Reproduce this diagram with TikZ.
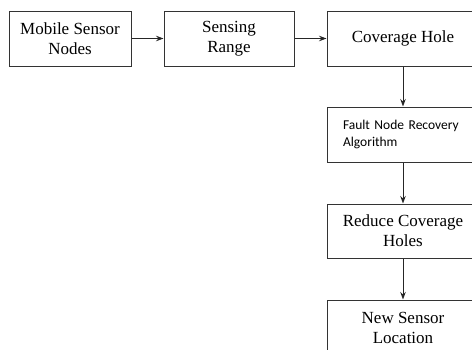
\documentclass[tikz,border=0pt]{standalone}
\usepackage{fontspec}
\setmainfont{Liberation Serif}
\newfontfamily\calfont{Carlito}
\usetikzlibrary{positioning,arrows.meta}
\begin{document}
\begin{tikzpicture}[
  x=1pt, y=-1pt,
  node distance=40pt and 32pt,
  block/.style={rectangle, draw=black!80, line width=1pt, minimum height=55pt, inner sep=0pt, align=center, font=\fontsize{17}{20}\selectfont},
  >={Stealth[length=7.5pt,width=5.5pt]}
]
\clip (0,0) rectangle (472,349);
\useasboundingbox (0,0) rectangle (472,349);

% Top row
\node[block, minimum width=122pt] (mobile) at (70,38.5) {Mobile Sensor\\Nodes};
\node[block, minimum width=130pt, right=32pt of mobile] (range) {Sensing\\Range};
\node[block, minimum width=152pt, right=32pt of range] (hole) {Coverage Hole};

% Right column
\node[block, minimum width=152pt, below=40pt of hole, align=left, text width=120pt, inner xsep=16pt, font=\calfont\fontsize{13.5}{17}\selectfont] (fault) {Fault Node Recovery\\Algorithm};
\node[block, minimum width=152pt, minimum height=54pt, below=41pt of fault] (reduce) {Reduce Coverage\\Holes};
\node[block, minimum width=152pt, below=41pt of reduce] (newloc) {New Sensor\\Location};

% Arrows
\draw[->,line width=1pt,black!85] (mobile) -- (range);
\draw[->,line width=1pt,black!85] (range) -- (hole);
\draw[->,line width=1pt,black!85] (hole) -- (fault);
\draw[->,line width=1pt,black!85] (fault) -- (reduce);
\draw[->,line width=1pt,black!85] (reduce) -- (newloc);
\end{tikzpicture}
\end{document}
